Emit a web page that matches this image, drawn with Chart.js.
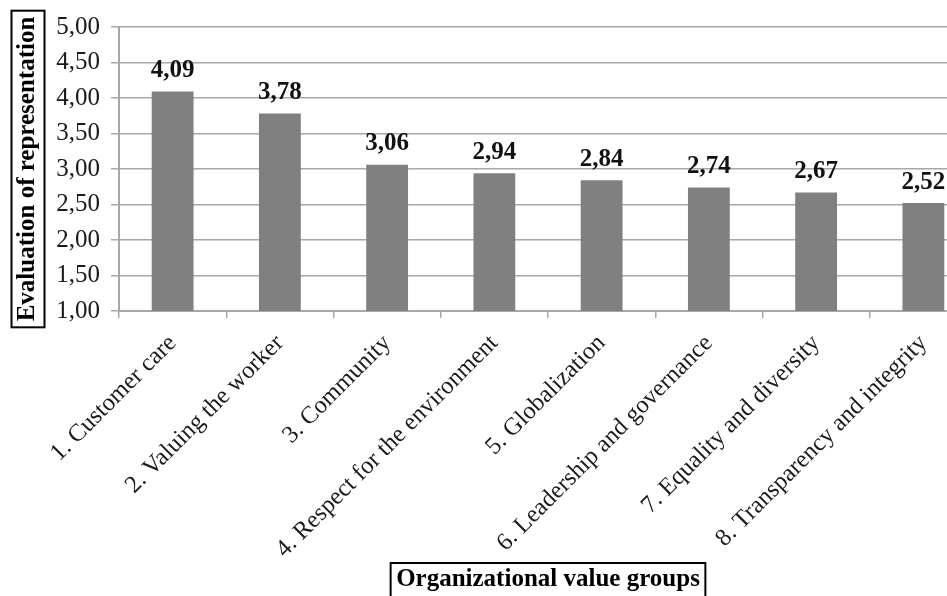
<!DOCTYPE html>
<html><head><meta charset="utf-8">
<script src="https://cdn.jsdelivr.net/npm/chart.js@4.4.1/dist/chart.umd.min.js"></script>
<style>
html,body{margin:0;padding:0;background:#fff;overflow:hidden;width:947px;height:596px;}
#wrap{position:absolute;left:0;top:0;width:985px;height:605px;}
canvas{display:block;}
</style></head><body>
<div id="wrap"><canvas id="c" width="985" height="605" style="width:985px;height:605px"></canvas></div>
<script>
const categories = [
  '1. Customer care',
  '2. Valuing the worker',
  '3. Community',
  '4. Respect for the environment',
  '5. Globalization',
  '6. Leadership and governance',
  '7. Equality and diversity',
  '8. Transparency and integrity'
];
const values = [4.09, 3.78, 3.06, 2.94, 2.84, 2.74, 2.67, 2.52];
const yTickLabels = ['1,00','1,50','2,00','2,50','3,00','3,50','4,00','4,50','5,00'];
const xTitle = 'Organizational value groups';
const yTitle = 'Evaluation of representation';

const SERIF = '"Liberation Serif", "Times New Roman", serif';
const GRID = '#a8a8a8';
const fmt = v => v.toFixed(2).replace('.', ',');

const Y_TITLE_PAD = 5;
const X_TITLE_PAD_B = 10;
const TITLE_SIZE = 25;

const valueLabels = {
  id: 'valueLabels',
  afterDatasetsDraw(chart) {
    const ctx = chart.ctx;
    const meta = chart.getDatasetMeta(0);
    ctx.save();
    ctx.font = 'bold 25px ' + SERIF;
    ctx.fillStyle = '#111';
    ctx.textAlign = 'center';
    ctx.textBaseline = 'middle';
    meta.data.forEach((bar, i) => {
      ctx.fillText(fmt(values[i]), bar.x, bar.y - 21);
    });
    ctx.restore();
  }
};

const titleBoxes = {
  id: 'titleBoxes',
  afterDraw(chart) {
    const ctx = chart.ctx;
    const ys = chart.scales.y, xs = chart.scales.x;
    const lh = TITLE_SIZE * 1.2;
    ctx.save();
    ctx.font = 'bold ' + TITLE_SIZE + 'px ' + SERIF;
    ctx.strokeStyle = '#000';
    ctx.lineWidth = 2;
    const wy = ctx.measureText(yTitle).width;
    const cxY = ys.left + lh / 2 + Y_TITLE_PAD;
    const cyY = (ys.top + ys.bottom) / 2;
    ctx.strokeRect(cxY - 16.5, cyY - wy / 2 - 6, 33, wy + 12);
    const wx = ctx.measureText(xTitle).width;
    const cxX = (xs.left + xs.right) / 2;
    const cyX = xs.bottom - lh / 2 - X_TITLE_PAD_B;
    ctx.strokeRect(cxX - wx / 2 - 5.5, cyX - 17, wx + 11, 40);
    ctx.restore();
  }
};

new Chart(document.getElementById('c'), {
  type: 'bar',
  data: {
    labels: categories,
    datasets: [{
      data: values,
      backgroundColor: '#808080',
      borderWidth: 0,
      categoryPercentage: 1.0,
      barPercentage: 0.39
    }]
  },
  options: {
    responsive: false,
    animation: false,
    devicePixelRatio: 1,
    layout: { padding: { left: 8, right: 8, top: 27, bottom: 0 } },
    plugins: { legend: { display: false }, tooltip: { enabled: false } },
    scales: {
      x: {
        offset: true,
        grid: { offset: true, drawOnChartArea: false, drawTicks: true, tickLength: 7, color: GRID, lineWidth: 1.5 },
        border: { display: true, color: GRID, width: 2 },
        ticks: {
          minRotation: 45, maxRotation: 45, autoSkip: false, padding: 11,
          color: '#1a1a1a',
          font: { family: SERIF, size: 24.5 }
        },
        title: {
          display: true, text: xTitle, color: '#000',
          font: { family: SERIF, size: TITLE_SIZE, weight: 'bold' },
          padding: { top: 0, bottom: X_TITLE_PAD_B }
        },
        afterFit(scale) { scale.height = 605 - 311; }
      },
      y: {
        min: 1, max: 5,
        ticks: {
          stepSize: 0.5, padding: 11, color: '#1a1a1a',
          font: { family: SERIF, size: 25 },
          callback: (v, i) => yTickLabels[i]
        },
        grid: { color: GRID, lineWidth: 1.5, tickLength: 8 },
        border: { display: true, color: GRID, width: 2 },
        title: {
          display: true, text: yTitle, color: '#000',
          font: { family: SERIF, size: TITLE_SIZE, weight: 'bold' },
          padding: { top: Y_TITLE_PAD, bottom: 0 }
        },
        afterFit(scale) { scale.width = 111; }
      }
    }
  },
  plugins: [valueLabels, titleBoxes]
});
</script>
</body></html>
